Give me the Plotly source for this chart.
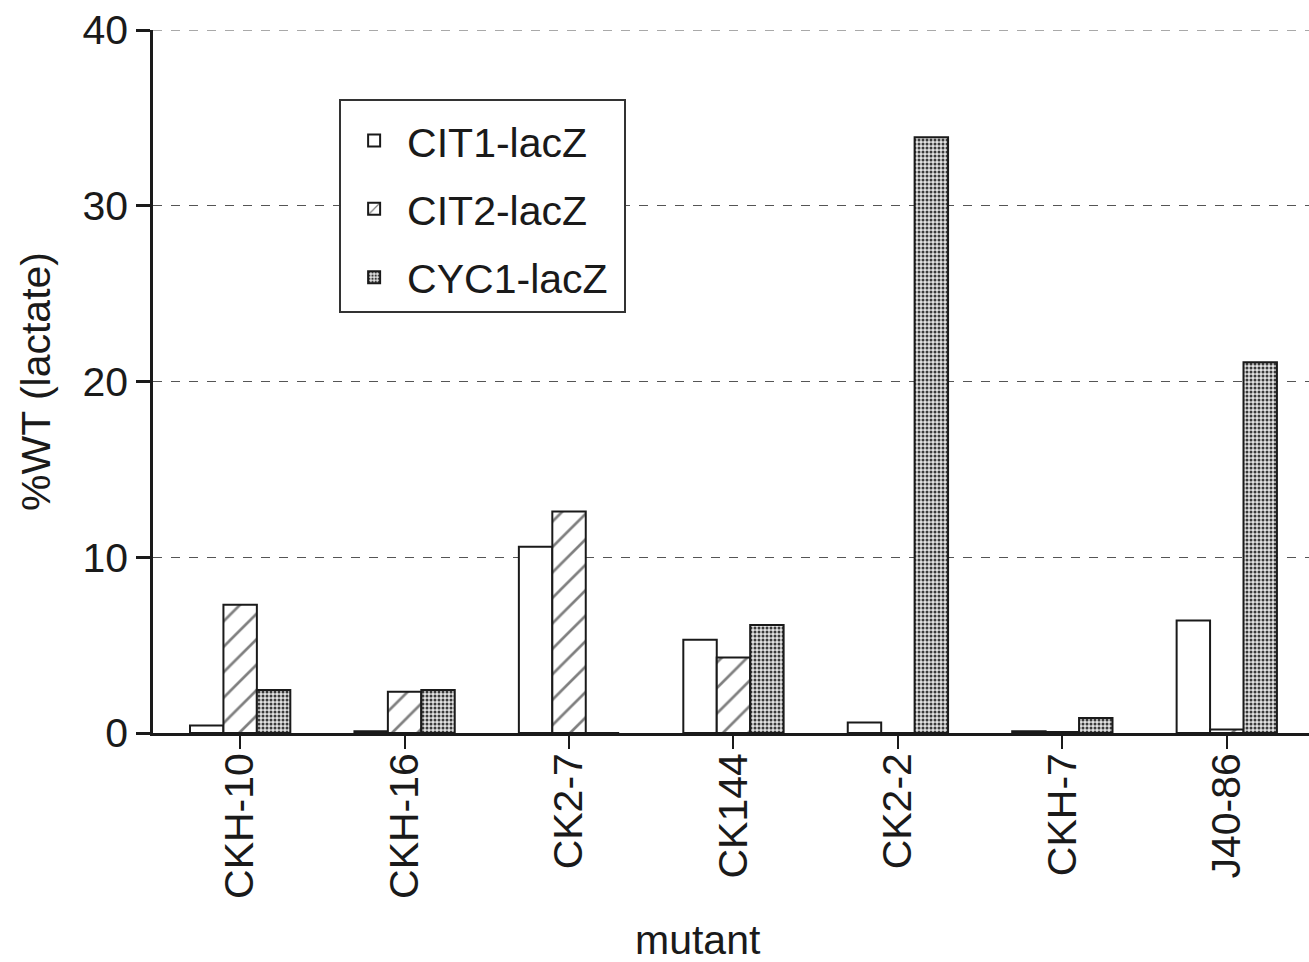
import plotly.graph_objects as go

# Mutant strains on the x axis
mutants = ["CKH-10", "CKH-16", "CK2-7", "CK144", "CK2-2", "CKH-7", "J40-86"]

# Reporter activity as % of wild type on lactate
cit1_lacz = [0.42, 0.1, 10.6, 5.3, 0.6, 0.1, 6.4]
cit2_lacz = [7.3, 2.35, 12.6, 4.3, 0.0, 0.05, 0.2]
cyc1_lacz = [2.45, 2.45, 0.0, 6.15, 33.9, 0.85, 21.1]

series_names = ["CIT1-lacZ", "CIT2-lacZ", "CYC1-lacZ"]
y_ticks = [0, 10, 20, 30, 40]

FONT = "Liberation Sans, Arial, Helvetica, sans-serif"
INK = "#1a1a1a"
FS = 41
PAD = "\u00a0"  # trailing space so the legend frame has some room on the right

fig = go.Figure()

fig.add_trace(go.Bar(
    name=series_names[0] + PAD, x=mutants, y=cit1_lacz, legendgroup="a",
    marker=dict(color="white", line=dict(color=INK, width=2)),
))
fig.add_trace(go.Bar(
    name=series_names[1] + PAD, x=mutants, y=cit2_lacz, legendgroup="b",
    marker=dict(color="white", line=dict(color=INK, width=2),
                pattern=dict(shape="/", size=18, solidity=0.15,
                             fgcolor="black", bgcolor="white", fillmode="overlay")),
))
fig.add_trace(go.Bar(
    name=series_names[2] + PAD, x=mutants, y=cyc1_lacz, legendgroup="c",
    marker=dict(color="#e2e2e2", line=dict(color=INK, width=2),
                pattern=dict(shape=".", size=4, solidity=0.45,
                             fgcolor="#3a3a3a", bgcolor="#e2e2e2", fillmode="replace")),
))

fig.update_layout(
    width=1309, height=962,
    margin=dict(l=153, r=0, t=30, b=229),
    paper_bgcolor="white", plot_bgcolor="white",
    barmode="group", bargap=0.39, bargroupgap=0,
    font=dict(family=FONT, size=FS, color=INK),
    showlegend=True,
    legend=dict(
        x=0.161, y=0.902, xanchor="left", yanchor="top",
        bgcolor="white", bordercolor="#333", borderwidth=2,
        font=dict(size=FS, family=FONT, color=INK),
        title=dict(text=" ", font=dict(size=5)),
        traceorder="grouped", tracegroupgap=12,
        itemwidth=56,
    ),
    xaxis=dict(
        type="category", range=[-0.53, 6.5],
        showline=True, linecolor=INK, linewidth=2.5,
        ticks="outside", ticklen=13, tickwidth=2, tickcolor=INK,
        tickangle=-90, tickfont=dict(size=FS), ticklabelstandoff=-12,
        showgrid=False, zeroline=False,
    ),
    yaxis=dict(
        range=[0, 40], tickvals=y_ticks,
        showline=True, linecolor=INK, linewidth=2.5,
        ticks="outside", ticklen=14, tickwidth=2.5, tickcolor=INK,
        tickfont=dict(size=FS),
        showgrid=True, gridcolor="#555", gridwidth=1, griddash="dash",
        zeroline=False,
        title=dict(text="%WT (lactate)", font=dict(size=FS), standoff=20),
    ),
    # top gridline at the upper end of the value axis
    shapes=[dict(
        type="line", xref="paper", yref="y", x0=0, x1=1,
        y0=y_ticks[-1], y1=y_ticks[-1],
        line=dict(color="#555", width=1, dash="dash"), layer="below",
    )],
    annotations=[dict(
        text="mutant", xref="paper", yref="paper",
        x=(698 - 153) / 1156, y=-(940 - 733) / 703,
        xanchor="center", yanchor="middle", showarrow=False,
        font=dict(size=FS, family=FONT, color=INK),
    )],
)

fig.write_html("out.html")
